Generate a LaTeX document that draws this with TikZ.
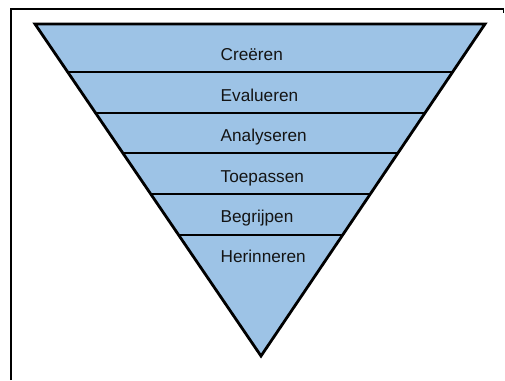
\documentclass[tikz,border=0pt]{standalone}
\usepackage{fontspec}
\setmainfont{Liberation Sans}
\definecolor{bandblue}{RGB}{157,195,230}
\begin{document}
\begin{tikzpicture}[x=1pt,y=-1pt,
  level/.style={anchor=base west,inner sep=0pt,font=\fontsize{17.2}{20}\selectfont,text=black!92},
  divider/.style={line width=1.8pt},
  outline/.style={line width=2.8pt,line join=miter},
  frame/.style={line width=1.6pt}]
\useasboundingbox (0,0) rectangle (505,380);
\fill[white] (0,0) rectangle (505,380);
% partial page frame
\coordinate (f0) at (11,380);
\coordinate (f1) at (11,9);
\coordinate (f2) at (503.5,9);
\coordinate (f3) at (503.5,13);
\draw[frame] (f0) -- (f1) -- (f2) -- (f3);
% inverted pyramid
\coordinate (tl) at (35,24);
\coordinate (tr) at (485,24);
\coordinate (ap) at (261,356);
\fill[bandblue] (tl) -- (tr) -- (ap) -- cycle;
\begin{scope}
  \clip (tl) -- (tr) -- (ap) -- cycle;
  \foreach \yy/\nm in {72/d1,113/d2,153/d3,194/d4,235/d5}{
    \coordinate (\nm l) at (0,\yy);
    \coordinate (\nm r) at (505,\yy);
    \draw[divider] (\nm l) -- (\nm r);
  }
\end{scope}
\draw[outline] (tl) -- (tr) -- (ap) -- cycle;
% level labels
\node[level] (l6) at (220.5,60.5) {Creëren};
\node[level] (l5) at (220.5,101) {Evalueren};
\node[level] (l4) at (220.5,141.5) {Analyseren};
\node[level] (l3) at (220.5,182) {Toepassen};
\node[level] (l2) at (220.5,222) {Begrijpen};
\node[level] (l1) at (220.5,262.7) {Herinneren};
\end{tikzpicture}
\end{document}
